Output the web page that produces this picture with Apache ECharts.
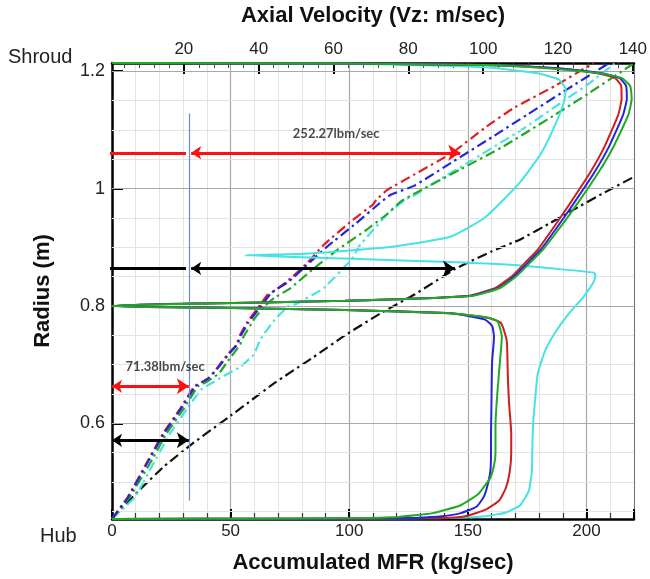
<!DOCTYPE html>
<html>
<head>
<meta charset="utf-8">
<script src="https://cdn.jsdelivr.net/npm/echarts@6/dist/echarts.min.js"></script>
<style>
  html, body { margin: 0; padding: 0; background: #fff; }
  #chart { width: 650px; height: 579px; }
</style>
</head>
<body>
<div id="chart"></div>
<script>
// ---- Axis ticks ----
const vzLabels = [20, 40, 60, 80, 100, 120, 140];
const vzMinor = [4, 8, 12, 16, 24, 28, 32, 36, 44, 48, 52, 56, 64, 68, 72, 76, 84, 88, 92, 96,
                 104, 108, 112, 116, 124, 128, 132, 136];
const radiusLabels = [0.6, 0.8, 1.0, 1.2];
const radiusMinor = [0.45, 0.5, 0.55, 0.65, 0.7, 0.75, 0.85, 0.9, 0.95, 1.05, 1.1, 1.15];

// ---- Axial velocity profiles [Vz (m/s), radius (m)] ----
const velRed = [
  [0.8, 0.4372], [40, 0.4374], [70, 0.4378], [85, 0.4385], [91.2, 0.4392], [95.8, 0.4427],
  [100.5, 0.4524], [104.3, 0.4686], [106.1, 0.4903], [107.1, 0.5173], [107.5, 0.5497],
  [107.5, 0.5822], [107.3, 0.6038], [106.9, 0.6362], [106.6, 0.6795], [106.4, 0.7335],
  [106.1, 0.7470], [104.7, 0.7714], [101.5, 0.7795], [91.2, 0.7876], [63.1, 0.7930],
  [25.6, 0.7973], [2, 0.7990],
  [2, 0.8010], [25.6, 0.8044], [63.1, 0.8087], [95.8, 0.8169], [103.3, 0.8306], [108.0, 0.8525],
  [111.3, 0.8743], [114.6, 0.8962], [118.3, 0.9290], [123.0, 0.9727], [128.6, 1.0273],
  [132.4, 1.0710], [136.1, 1.1257], [137.0, 1.1530], [136.9, 1.1749], [135.2, 1.1885],
  [130.5, 1.1967], [119.3, 1.2049], [100.5, 1.2104], [63.1, 1.2131], [0.8, 1.2142]
];
const velBlue = [
  [0.8, 0.4372], [50, 0.4375], [75, 0.4382], [81.8, 0.4389], [88.9, 0.4416], [94.0, 0.4470],
  [98.2, 0.4578], [100.1, 0.4740], [101.0, 0.4903], [101.9, 0.5173], [102.1, 0.5497],
  [102.1, 0.5822], [102.2, 0.6254], [102.3, 0.6795], [102.4, 0.7065], [102.9, 0.7470],
  [102.4, 0.7660], [100.5, 0.7768], [96.0, 0.7830], [91.2, 0.7876], [63.1, 0.7930],
  [25.6, 0.7973], [2, 0.7990],
  [2, 0.8010], [25.6, 0.8044], [63.1, 0.8087], [96.3, 0.8169], [104.0, 0.8306], [108.6, 0.8525],
  [112.0, 0.8743], [115.4, 0.8962], [119.2, 0.9290], [124.0, 0.9727], [129.7, 1.0273],
  [133.6, 1.0710], [137.4, 1.1257], [138.4, 1.1530], [138.2, 1.1749], [136.4, 1.1885],
  [131.5, 1.1967], [120.0, 1.2049], [101.0, 1.2104], [63.0, 1.2131], [0.8, 1.2142]
];
const velGreen = [
  [0.8, 0.4372], [40, 0.4376], [65, 0.4385], [77.1, 0.4405], [86.5, 0.4470], [94.0, 0.4605],
  [98.7, 0.4795], [101.0, 0.4984], [101.9, 0.5065], [102.9, 0.5281], [103.3, 0.5497],
  [103.3, 0.5984], [103.8, 0.6524], [104.5, 0.7065], [105.0, 0.7470], [103.8, 0.7741],
  [100.5, 0.7811], [91.2, 0.7876], [63.1, 0.7930], [25.6, 0.7973], [0.8, 0.7990],
  [0.8, 0.8010], [25.6, 0.8044], [63.1, 0.8087], [96.8, 0.8169], [104.5, 0.8306], [109.2, 0.8525],
  [112.6, 0.8743], [116.0, 0.8962], [120.0, 0.9290], [125.0, 0.9727], [130.8, 1.0273],
  [134.8, 1.0710], [138.8, 1.1257], [139.7, 1.1530], [139.3, 1.1749], [137.0, 1.1885],
  [131.0, 1.1967], [115.0, 1.2060], [100.5, 1.2104], [63.0, 1.2131], [0.8, 1.2142]
];
const velCyan = [
  [0.8, 0.4372], [60, 0.4376], [85, 0.4383], [91.2, 0.4386], [100.5, 0.4416], [106.1, 0.4481],
  [109.9, 0.4605], [112.2, 0.4849], [113.0, 0.5173], [113.2, 0.5714], [113.4, 0.6038],
  [113.9, 0.6416], [114.6, 0.6849], [116.5, 0.7227], [119.3, 0.7551], [123.0, 0.7876],
  [126.7, 0.8146], [129.6, 0.8416], [130.0, 0.8525], [129.6, 0.8568], [109.9, 0.8689],
  [93.0, 0.8743], [63.1, 0.8809], [36.4, 0.8863], [53.7, 0.8896], [75.2, 0.9005],
  [91.2, 0.9180], [100.5, 0.9508], [109.9, 1.0109], [115.5, 1.0601], [119.3, 1.1093],
  [121.6, 1.1475], [122.1, 1.1694], [120.2, 1.1858], [114.6, 1.1967], [100.5, 1.2066],
  [72.4, 1.2120], [35.0, 1.2137], [0.8, 1.2142]
];

// ---- Accumulated mass flow rate [MFR (kg/s), radius (m)] ----
const mfrRed = [
  [0, 0.4373], [6.6, 0.4741], [14.0, 0.5281], [21.4, 0.5822], [28.8, 0.6254], [34.7, 0.6632],
  [38.4, 0.6714], [40.6, 0.6768], [43.5, 0.6903], [48.7, 0.7173], [52.4, 0.7335], [53.9, 0.7497],
  [56.8, 0.7714], [62.7, 0.8035], [65.7, 0.8197], [68.6, 0.8262], [74.5, 0.8443], [81.9, 0.8716],
  [89.3, 0.9044], [101.1, 0.9454], [110.0, 0.9727], [111.4, 0.9809], [115.9, 0.9973],
  [127.7, 1.0246], [143.5, 1.0612], [157.2, 1.1038], [169.0, 1.1366], [186.7, 1.1749],
  [201.5, 1.2104], [203.0, 1.2140]
];
const mfrBlue = [
  [0, 0.4373], [6.8, 0.4741], [14.3, 0.5281], [21.8, 0.5822], [29.2, 0.6254], [35.2, 0.6632],
  [38.8, 0.6720], [41.0, 0.6780], [44.0, 0.6910], [49.2, 0.7180], [52.8, 0.7340], [54.4, 0.7500],
  [57.4, 0.7714], [63.5, 0.8033], [67.2, 0.8224], [74.5, 0.8415], [81.9, 0.8689], [90.8, 0.9016],
  [102.6, 0.9399], [112.9, 0.9754], [117.3, 0.9891], [127.7, 1.0055], [143.9, 1.0464],
  [160.1, 1.0874], [174.9, 1.1257], [194.1, 1.1749], [209.6, 1.2140]
];
const mfrGreen = [
  [0, 0.4373], [7.4, 0.4741], [15.5, 0.5281], [22.9, 0.5822], [30.3, 0.6254], [36.2, 0.6632],
  [39.1, 0.6686], [45.0, 0.6849], [49.4, 0.7092], [53.9, 0.7335], [55.4, 0.7470], [59.8, 0.7768],
  [64.2, 0.7995], [68.6, 0.8142], [75.3, 0.8306], [84.9, 0.8634], [95.2, 0.8962], [107.0, 0.9290],
  [115.9, 0.9563], [121.8, 0.9781], [127.7, 0.9918], [146.9, 1.0328], [164.6, 1.0710],
  [186.7, 1.1257], [201.5, 1.1639], [216.2, 1.2033], [219.5, 1.2120]
];
const mfrCyan = [
  [0, 0.4373], [9.6, 0.4741], [17.0, 0.5281], [24.4, 0.5822], [31.7, 0.6254], [37.6, 0.6578],
  [42.1, 0.6686], [46.5, 0.6795], [53.9, 0.6957], [59.8, 0.7173], [62.7, 0.7443], [68.6, 0.7768],
  [74.5, 0.8000], [78.0, 0.8040], [89.3, 0.8306], [101.1, 0.8798], [104.1, 0.9016],
  [117.3, 0.9617], [124.7, 0.9836], [127.7, 0.9891], [135.1, 1.0082], [149.8, 1.0437],
  [172.0, 1.0984], [189.7, 1.1475], [201.5, 1.1803], [211.8, 1.2131]
];
const mfrBlack = [
  [0, 0.4373], [12, 0.488], [22, 0.527], [34.4, 0.567], [50, 0.613], [68.6, 0.669], [85, 0.713],
  [98.2, 0.750], [113, 0.787], [127.7, 0.820], [144.6, 0.863], [160, 0.893], [171.9, 0.913],
  [185, 0.942], [194.1, 0.963], [207, 0.992], [220, 1.020]
];

// ---- Annotations ----
const LBM_TO_KG = 0.45359237;
const innerFlowLbm = 71.38;    // flow below the marker line
const outerFlowLbm = 252.27;   // flow between the marker line and the red arrow tip
const markerMfr = innerFlowLbm * LBM_TO_KG;
const outerTipMfr = markerMfr + outerFlowLbm * LBM_TO_KG;
const blackTipMfr = 144.6;
const arrowRadius = { outerRed: 1.061, outerBlack: 0.864, innerRed: 0.663, innerBlack: 0.571 };
const markerSpan = [0.468, 1.128];

const FONT = '"Liberation Sans", Arial, sans-serif';
const RMIN = 0.437, RMAX = 1.214;

const chart = echarts.init(document.getElementById('chart'));

function solid(name, data, color, z) {
  return { name, type: 'line', xAxisIndex: 1, yAxisIndex: 0, data, symbol: 'none',
    smooth: 0.15, lineStyle: { color, width: 2 }, z, silent: true, animation: false };
}
function dashDot(name, data, color, z) {
  return { name, type: 'line', xAxisIndex: 0, yAxisIndex: 0, data, symbol: 'none',
    smooth: 0.1, lineStyle: { color, width: 2.2, type: [10, 4, 2.5, 4] }, z, silent: true, animation: false };
}
function arrow(color, r, x1, x2, symbols) {
  return { type: 'lines', coordinateSystem: 'cartesian2d', xAxisIndex: 0, yAxisIndex: 0,
    data: [{ coords: [[x1, r], [x2, r]] }], symbol: symbols, symbolSize: [10, 12],
    lineStyle: { color, width: 3, opacity: 1, curveness: 0 }, z: 12, silent: true, animation: false };
}
function note(text, x, r, pos) {
  return { type: 'scatter', xAxisIndex: 0, yAxisIndex: 0, data: [[x, r]], symbolSize: 1,
    itemStyle: { color: 'transparent' }, z: 13, silent: true, animation: false,
    label: { show: true, position: pos, distance: 0, formatter: text,
      fontFamily: 'Lato, "Open Sans", sans-serif', fontWeight: 'bold', fontSize: 13, color: '#1a1a1a' } };
}

const gridLines = [];
radiusMinor.forEach(v => gridLines.push({ yAxis: v, lineStyle: { color: '#e3e3e3', width: 1, type: 'solid' } }));
radiusLabels.forEach(v => gridLines.push({ yAxis: v, lineStyle: { color: '#a9a9a9', width: 1.2, type: 'solid' } }));

const nameStyle = { fontFamily: FONT, fontWeight: 'bold', fontSize: 22, color: '#111' };

const option = {
  backgroundColor: '#fff',
  animation: false,
  grid: { left: 112, right: 16, top: 52, bottom: 48, containLabel: false },
  xAxis: [
    { type: 'value', position: 'bottom', min: 0, max: 220, interval: 10,
      axisLine: { show: true, onZero: false, lineStyle: { color: '#000', width: 2.5 } },
      axisTick: { show: true, inside: true, length: 6, lineStyle: { color: '#333', width: 1.2 } },
      axisLabel: { formatter: v => (v % 50 === 0 ? String(v) : ''), fontFamily: FONT, fontSize: 17,
        color: '#222', margin: 4, showMaxLabel: true },
      splitLine: { show: true, lineStyle: { color: '#e3e3e3', width: 1 } },
      name: 'Accumulated MFR (kg/sec)', nameLocation: 'middle', nameGap: 33, nameTextStyle: nameStyle },
    { type: 'value', position: 'top', min: 0.8, max: 140.3,
      axisLine: { show: true, onZero: false, lineStyle: { color: '#000', width: 2.5 } },
      axisTick: { show: true, inside: true, length: 11, customValues: vzLabels, lineStyle: { color: '#000', width: 2 } },
      axisLabel: { customValues: vzLabels, fontFamily: FONT, fontSize: 17, color: '#222', margin: 5 },
      splitLine: { show: false },
      name: 'Axial Velocity (Vz: m/sec)', nameLocation: 'middle', nameGap: 36, nameTextStyle: nameStyle },
    { type: 'value', position: 'bottom', min: 0, max: 220, interval: 50,
      axisLine: { show: false },
      axisTick: { show: true, inside: true, length: 10, lineStyle: { color: '#000', width: 2 } },
      axisLabel: { show: false },
      splitLine: { show: true, lineStyle: { color: '#a9a9a9', width: 1.2 } } },
    { type: 'value', position: 'top', min: 0.8, max: 140.3,
      axisLine: { show: false },
      axisTick: { show: true, inside: true, length: 5, customValues: vzMinor, lineStyle: { color: '#444', width: 1 } },
      axisLabel: { show: false }, splitLine: { show: false } }
  ],
  yAxis: [
    { type: 'value', position: 'left', min: RMIN, max: RMAX,
      axisLine: { show: true, onZero: false, lineStyle: { color: '#000', width: 2.5 } },
      axisTick: { show: true, inside: true, length: 11, customValues: radiusLabels, lineStyle: { color: '#000', width: 2 } },
      axisLabel: { customValues: radiusLabels, formatter: v => String(+v.toFixed(2)),
        fontFamily: FONT, fontSize: 18, color: '#222', margin: 7 },
      splitLine: { show: false },
      name: 'Radius (m)', nameLocation: 'middle', nameGap: 58, nameRotate: 90, nameTextStyle: nameStyle },
    { type: 'value', position: 'left', min: RMIN, max: RMAX,
      axisLine: { show: false },
      axisTick: { show: true, inside: true, length: 6, customValues: radiusMinor, lineStyle: { color: '#444', width: 1 } },
      axisLabel: { show: false }, splitLine: { show: false } },
    { type: 'value', position: 'right', min: RMIN, max: RMAX,
      axisLine: { show: true, onZero: false, lineStyle: { color: '#777', width: 1 } },
      axisTick: { show: false }, axisLabel: { show: false }, splitLine: { show: false } }
  ],
  graphic: [
    { type: 'text', left: 8, top: 47, style: { text: 'Shroud', font: '20px "Liberation Sans", Arial', fill: '#222' } },
    { type: 'text', left: 40, top: 526, style: { text: 'Hub', font: '20px "Liberation Sans", Arial', fill: '#222' } }
  ],
  series: [
    { type: 'line', xAxisIndex: 0, yAxisIndex: 0, data: [[0, RMIN]], symbol: 'none',
      lineStyle: { opacity: 0 }, z: 1, silent: true,
      markLine: { silent: true, symbol: ['none', 'none'], label: { show: false }, animation: false, data: gridLines } },

    dashDot('MFR black', mfrBlack, '#111111', 3),
    dashDot('MFR cyan', mfrCyan, '#45e3e3', 4),
    dashDot('MFR green', mfrGreen, '#22a822', 5),
    dashDot('MFR red', mfrRed, '#dd2020', 6),
    dashDot('MFR blue', mfrBlue, '#2525dd', 7),

    solid('Vz cyan', velCyan, '#45e3e3', 8),
    solid('Vz red', velRed, '#cc1f1f', 9),
    solid('Vz blue', velBlue, '#2525dd', 10),
    solid('Vz green', velGreen, '#22aa22', 11),

    { type: 'lines', coordinateSystem: 'cartesian2d', xAxisIndex: 0, yAxisIndex: 0,
      data: [{ coords: [[markerMfr, markerSpan[0]], [markerMfr, markerSpan[1]]] }], symbol: ['none', 'none'],
      lineStyle: { color: '#6a8fc4', width: 1.2, opacity: 1 }, z: 11, silent: true, animation: false },

    arrow('#ff1010', arrowRadius.outerRed, -1.5, markerMfr - 1.2, ['none', 'none']),
    arrow('#ff1010', arrowRadius.outerRed, markerMfr + 1.0, outerTipMfr, ['arrow', 'arrow']),
    arrow('#000000', arrowRadius.outerBlack, -1.5, markerMfr - 1.2, ['none', 'none']),
    arrow('#000000', arrowRadius.outerBlack, markerMfr + 1.0, blackTipMfr, ['arrow', 'arrow']),
    arrow('#ff1010', arrowRadius.innerRed, 0, markerMfr, ['arrow', 'arrow']),
    arrow('#000000', arrowRadius.innerBlack, 0, markerMfr, ['arrow', 'arrow']),

    note(outerFlowLbm.toFixed(2) + 'lbm/sec', 94.5, 1.094, 'inside'),
    note(innerFlowLbm.toFixed(2) + 'lbm/sec', 5.5, 0.6957, 'right')
  ]
};

chart.setOption(option);
</script>
</body>
</html>
